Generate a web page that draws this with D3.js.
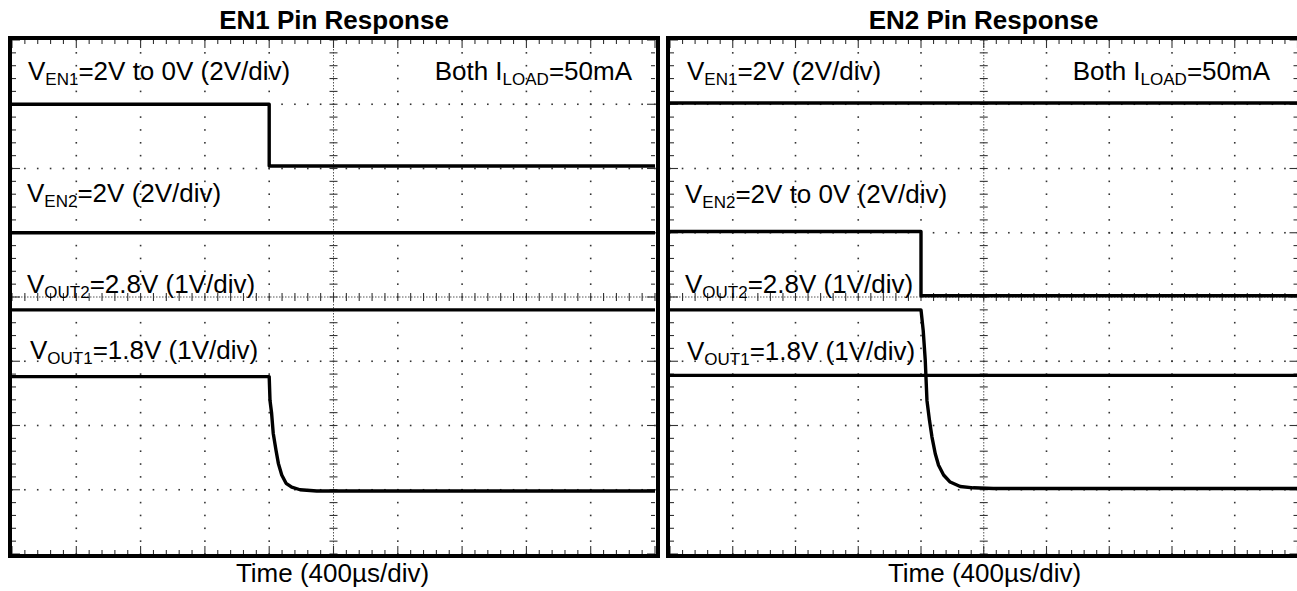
<!DOCTYPE html>
<html><head><meta charset="utf-8">
<script src="https://cdn.jsdelivr.net/npm/d3@7"></script>
<style>
body{margin:0;background:#fff}
svg{display:block}
text{font-family:"Liberation Sans",Arial,Helvetica,sans-serif;fill:#000}
</style>
</head><body>
<svg id="chart" width="1297" height="591"></svg>
<script>
// ---------------- DATA ----------------
const panelTitles = ["EN1 Pin Response", "EN2 Pin Response"];
const timeLabel = "Time (400\u00b5s/div)";
const timePerDiv = 400;          // µs per division
const xDivisions = 10;
const yDivisions = 8;

// channel setups: volts per division, zero-volt position (divisions from screen centre)
const p1Channels = {EN1:{vdiv:2, zero:2.04}, EN2:{vdiv:2, zero:0}, VOUT2:{vdiv:1, zero:-3.0}, VOUT1:{vdiv:1, zero:-3.0}};
const p2Channels = {EN1:{vdiv:2, zero:2.0},  EN2:{vdiv:2, zero:0.02}, VOUT2:{vdiv:1, zero:-3.0}, VOUT1:{vdiv:1, zero:-3.0}};

// Panel 1 (EN1 toggled) – time in µs, value in V
const p1EN1_t   = [0, 1600, 1600, 4000];
const p1EN1_v   = [1.92, 1.92, 0, 0];
const p1EN2_t   = [0, 4000];
const p1EN2_v   = [2.0, 2.0];
const p1VOUT2_t = [0, 4000];
const p1VOUT2_v = [2.8, 2.8];
const p1VOUT1_t = [0, 1600, 1605, 1615, 1625, 1642, 1657, 1678, 1705, 1740, 1792, 1896, 4000];
const p1VOUT1_v = [1.76, 1.76, 1.39, 1.19, 0.88, 0.62, 0.41, 0.23, 0.10, 0.04, 0.0, -0.02, -0.02];

// Panel 2 (EN2 toggled)
const p2EN1_t   = [0, 4000];
const p2EN1_v   = [2.04, 2.04];
const p2EN2_t   = [0, 1600, 1600, 4000];
const p2EN2_v   = [2.0, 2.0, 0, 0];
const p2VOUT2_t = [0, 1600, 1614, 1627, 1638, 1654, 1670, 1691, 1712, 1744, 1786, 1850, 1933, 2061, 4000];
const p2VOUT2_v = [2.8, 2.8, 2.48, 2.02, 1.39, 1.08, 0.82, 0.56, 0.38, 0.23, 0.12, 0.05, 0.03, 0.02, 0.02];
const p2VOUT1_t = [0, 4000];
const p2VOUT1_v = [1.78, 1.78];

// Annotation texts: [text, isSubscript]
const p1Labels = [
  [["V",0],["EN1",1],["=2V to 0V (2V/div)",0]],
  [["Both I",0],["LOAD",1],["=50mA",0]],
  [["V",0],["EN2",1],["=2V (2V/div)",0]],
  [["V",0],["OUT2",1],["=2.8V (1V/div)",0]],
  [["V",0],["OUT1",1],["=1.8V (1V/div)",0]]
];
const p2Labels = [
  [["V",0],["EN1",1],["=2V (2V/div)",0]],
  [["Both I",0],["LOAD",1],["=50mA",0]],
  [["V",0],["EN2",1],["=2V to 0V (2V/div)",0]],
  [["V",0],["OUT2",1],["=2.8V (1V/div)",0]],
  [["V",0],["OUT1",1],["=1.8V (1V/div)",0]]
];

// ---------------- LAYOUT ----------------
const svg = d3.select("#chart");
const panels = [
  {x0:12, x1:655, y0:40, y1:554, frameRight:658, title:panelTitles[0], titleX:334, timeX:332.5,
   ch:p1Channels,
   traces:[["EN1",p1EN1_t,p1EN1_v],["EN2",p1EN2_t,p1EN2_v],["VOUT2",p1VOUT2_t,p1VOUT2_v],["VOUT1",p1VOUT1_t,p1VOUT1_v]],
   labels:p1Labels,
   labelPos:[[28,80,"start"],[632,79.5,"end"],[27,202,"start"],[27,292.5,"start"],[30,358.5,"start"]]},
  {x0:670, x1:1297.5, y0:40, y1:554, frameRight:1299.5, title:panelTitles[1], titleX:983.5, timeX:984.5,
   ch:p2Channels,
   traces:[["EN1",p2EN1_t,p2EN1_v],["EN2",p2EN2_t,p2EN2_v],["VOUT2",p2VOUT2_t,p2VOUT2_v],["VOUT1",p2VOUT1_t,p2VOUT1_v]],
   labels:p2Labels,
   labelPos:[[687,80,"start"],[1270,79.5,"end"],[685,203,"start"],[685,293,"start"],[687,360,"start"]]}
];

panels.forEach(p => {
  const tMax = timePerDiv * xDivisions;
  const x = d3.scaleLinear().domain([0, tMax]).range([p.x0, p.x1]);
  const y = d3.scaleLinear().domain([-yDivisions/2, yDivisions/2]).range([p.y1, p.y0]);
  const g = svg.append("g");

  g.append("rect").attr("x", p.x0).attr("y", p.y0).attr("width", p.x1 - p.x0).attr("height", p.y1 - p.y0).attr("fill", "#fff");

  const majorT = d3.range(0, tMax + 1, timePerDiv);
  const minorT = d3.range(0, tMax + 1, timePerDiv / 5);
  const majorY = d3.range(-yDivisions/2, yDivisions/2 + 0.001, 1);
  const minorY = d3.range(-yDivisions/2, yDivisions/2 + 0.001, 0.2).map(v => Math.round(v*10)/10);

  // dotted grid: dots at minor positions along each major line
  const dots = [];
  majorT.forEach(t => { if (t > 0 && t < tMax && t !== tMax/2) minorY.forEach(v => dots.push([x(t), y(v)])); });
  majorY.forEach(v => { if (v > -4 && v < 4 && v !== 0) minorT.forEach(t => dots.push([x(t), y(v)])); });
  g.append("g").selectAll("rect").data(dots).join("rect")
    .attr("x", d => d[0] - 0.8).attr("y", d => d[1] - 0.8).attr("width", 1.6).attr("height", 1.6).attr("fill", "#333");

  // centre axes: dense dotted line with minor ticks
  const cx = x(tMax/2), cy = y(0);
  g.append("line").attr("x1", p.x0).attr("x2", p.x1).attr("y1", cy).attr("y2", cy)
    .attr("stroke", "#555").attr("stroke-width", 1).attr("stroke-dasharray", "1.5,1.5");
  g.append("line").attr("x1", cx).attr("x2", cx).attr("y1", p.y0).attr("y2", p.y1)
    .attr("stroke", "#555").attr("stroke-width", 1).attr("stroke-dasharray", "1.5,1.5");
  g.append("g").selectAll("line").data(minorT).join("line")
    .attr("x1", d => x(d)).attr("x2", d => x(d)).attr("y1", cy - 4).attr("y2", cy + 4)
    .attr("stroke", "#333").attr("stroke-width", 1.1);
  g.append("g").selectAll("line").data(minorY).join("line")
    .attr("y1", d => y(d)).attr("y2", d => y(d)).attr("x1", cx - 4).attr("x2", cx + 4)
    .attr("stroke", "#333").attr("stroke-width", 1.1);

  // edge ticks
  const et = g.append("g").attr("stroke", "#333").attr("stroke-width", 1.1);
  minorT.forEach(t => {
    const L = majorT.includes(t) ? 8 : 4;
    et.append("line").attr("x1", x(t)).attr("x2", x(t)).attr("y1", p.y0).attr("y2", p.y0 + L);
    et.append("line").attr("x1", x(t)).attr("x2", x(t)).attr("y1", p.y1).attr("y2", p.y1 - L);
  });
  minorY.forEach(v => {
    const L = majorY.includes(v) ? 8 : 4;
    et.append("line").attr("y1", y(v)).attr("y2", y(v)).attr("x1", p.x0).attr("x2", p.x0 + L);
    et.append("line").attr("y1", y(v)).attr("y2", y(v)).attr("x1", p.x1).attr("x2", p.x1 - L);
  });

  // traces
  p.traces.forEach(([name, ts, vs]) => {
    const c = p.ch[name];
    const pts = ts.map((t, i) => [t, vs[i]]);
    const line = d3.line().x(d => x(d[0])).y(d => y(c.zero + d[1] / c.vdiv));
    g.append("path").attr("d", line(pts)).attr("fill", "none").attr("stroke", "#000")
      .attr("stroke-width", 3.4).attr("stroke-linejoin", "round");
  });

  // annotations
  p.labels.forEach((parts, i) => {
    const [lx, ly, anchor] = p.labelPos[i];
    const t = g.append("text").attr("x", lx).attr("y", ly).attr("font-size", 26).attr("text-anchor", anchor);
    let shifted = false;
    parts.forEach(([s, sub]) => {
      const ts = t.append("tspan").text(s);
      if (sub) { ts.attr("font-size", 17).attr("dy", 5); shifted = true; }
      else if (shifted) { ts.attr("dy", -5); shifted = false; }
    });
  });

  // frame
  g.append("rect").attr("x", p.x0 - 2).attr("y", p.y0 - 2).attr("width", p.frameRight - p.x0 + 2).attr("height", p.y1 - p.y0 + 4)
    .attr("fill", "none").attr("stroke", "#000").attr("stroke-width", 4);

  // title and time label
  svg.append("text").attr("x", p.titleX).attr("y", 29).attr("text-anchor", "middle")
    .attr("font-size", 26).attr("font-weight", "bold").text(p.title);
  svg.append("text").attr("x", p.timeX).attr("y", 582).attr("text-anchor", "middle")
    .attr("font-size", 26).text(timeLabel);
});
</script>
</body></html>
